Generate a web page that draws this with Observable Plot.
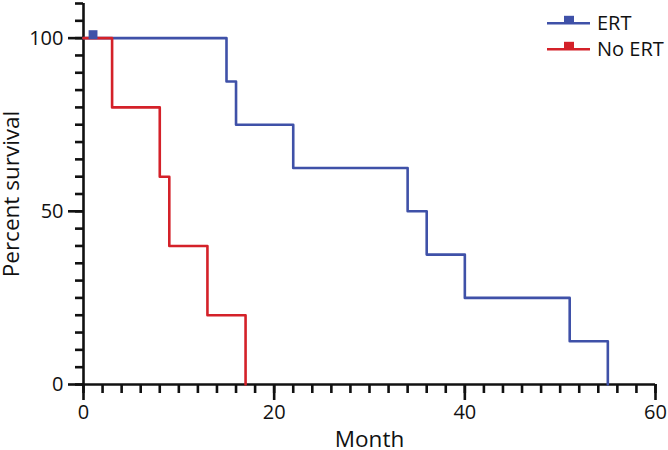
<!DOCTYPE html>
<html>
<head>
<meta charset="utf-8">
<script src="https://cdn.jsdelivr.net/npm/d3@7"></script>
<script src="https://cdn.jsdelivr.net/npm/@observablehq/plot@0.6"></script>
<style>
  html, body { margin: 0; padding: 0; background: #fff; }
  #wrap { position: relative; width: 668px; height: 450px; font-family: "Open Sans", sans-serif; }
  #wrap svg { overflow: visible; }
  #legend { position: absolute; left: 0; top: 0; }
</style>
</head>
<body>
<div id="wrap"></div>
<script>
// Kaplan-Meier step data
const ertMonths = [0, 15, 16, 22, 34, 36, 40, 51, 55];
const ertSurvival = [100, 87.5, 75, 62.5, 50, 37.5, 25, 12.5, 0];
const ertCensorMonths = [1];
const ertCensorSurvival = [100];
const noErtMonths = [0, 3, 8, 9, 13, 17];
const noErtSurvival = [100, 80, 60, 40, 20, 0];

const seriesNames = ["ERT", "No ERT"];
const seriesColors = ["#3F51A8", "#D42129"];

const xMajorTicks = [0, 20, 40, 60];
const xMinorTicks = d3.range(0, 61, 2);
const yMajorTicks = [0, 50, 100];
const yMinorTicks = d3.range(0, 111, 5);

const ert = ertMonths.map((m, i) => ({month: m, pct: ertSurvival[i], group: "ERT"}));
const noErt = noErtMonths.map((m, i) => ({month: m, pct: noErtSurvival[i], group: "No ERT"}));
const censors = ertCensorMonths.map((m, i) => ({month: m, pct: ertCensorSurvival[i], group: "ERT"}));

const font = "'Open Sans', sans-serif";
const axisW = 2.6;

const chart = Plot.plot({
  width: 668,
  height: 450,
  marginTop: 3,
  marginRight: 13,
  marginBottom: 66,
  marginLeft: 83,
  style: {fontFamily: font, background: "white", color: "#111"},
  x: {domain: [0, 60]},
  y: {domain: [0, 110]},
  color: {domain: seriesNames, range: seriesColors},
  marks: [
    Plot.axisX({ticks: xMinorTicks, tickSize: 9, tickFormat: () => "", strokeWidth: axisW, label: null}),
    Plot.axisX({ticks: xMajorTicks, tickSize: 16, tickPadding: 4, fontSize: 20, strokeWidth: axisW, label: null}),
    Plot.axisY({ticks: yMinorTicks, tickSize: 8, tickFormat: () => "", strokeWidth: axisW, label: null}),
    Plot.axisY({ticks: yMajorTicks, tickSize: 15, tickPadding: 5, fontSize: 20, strokeWidth: axisW, label: null}),
    Plot.ruleY([0], {x1: 0, x2: 60, strokeWidth: axisW}),
    Plot.ruleX([0], {y1: 0, y2: 110, strokeWidth: axisW}),
    Plot.line(ert, {x: "month", y: "pct", stroke: "group", curve: "step-after", strokeWidth: 2.6}),
    Plot.line(noErt, {x: "month", y: "pct", stroke: "group", curve: "step-after", strokeWidth: 2.6}),
    Plot.dot(censors, {x: "month", y: "pct", fill: "group", symbol: "square", r: 5, dy: -3.5}),
    Plot.text(["Month"], {frameAnchor: "bottom", lineAnchor: "middle", textAnchor: "middle", dy: 55, fontSize: 22.5, fill: "#111"}),
    Plot.text(["Percent survival"], {frameAnchor: "left", lineAnchor: "middle", textAnchor: "middle", dx: -72, rotate: -90, fontSize: 22.5, fill: "#111"})
  ]
});

const wrap = document.getElementById("wrap");
wrap.appendChild(chart);

// Legend overlay
const ns = "http://www.w3.org/2000/svg";
const leg = document.createElementNS(ns, "svg");
leg.setAttribute("id", "legend");
leg.setAttribute("width", 668);
leg.setAttribute("height", 80);
seriesNames.forEach((name, i) => {
  const y = 23.3 + i * 26;
  const g = document.createElementNS(ns, "g");
  const line = document.createElementNS(ns, "line");
  line.setAttribute("x1", 547); line.setAttribute("x2", 590);
  line.setAttribute("y1", y); line.setAttribute("y2", y);
  line.setAttribute("stroke", seriesColors[i]); line.setAttribute("stroke-width", 2.6);
  const sq = document.createElementNS(ns, "rect");
  sq.setAttribute("x", 564); sq.setAttribute("y", y - 7.5);
  sq.setAttribute("width", 10); sq.setAttribute("height", 7.5);
  sq.setAttribute("fill", seriesColors[i]);
  const t = document.createElementNS(ns, "text");
  t.setAttribute("x", 597); t.setAttribute("y", y + 7);
  t.setAttribute("font-family", font); t.setAttribute("font-size", 20);
  t.setAttribute("fill", "#111");
  t.textContent = name;
  g.appendChild(line); g.appendChild(sq); g.appendChild(t);
  leg.appendChild(g);
});
wrap.appendChild(leg);
</script>
</body>
</html>
